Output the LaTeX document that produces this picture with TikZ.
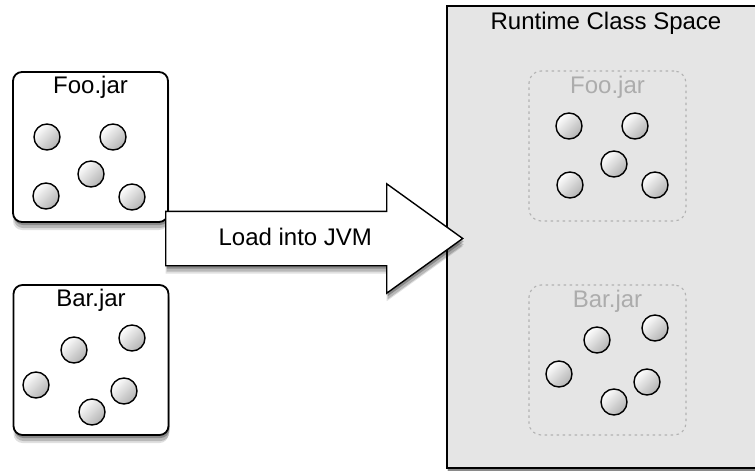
\documentclass[tikz,border=0pt]{standalone}
\usepackage{fontspec}
\setmainfont{Liberation Sans}
\usetikzlibrary{shapes.arrows, shadows}
\newcommand{\jarfont}{\fontsize{24pt}{28pt}\selectfont}
\tikzset{
  softshadow/.style={
    drop shadow={shadow xshift=0pt, shadow yshift=-8pt, opacity=0.12, fill=black},
    drop shadow={shadow xshift=1pt, shadow yshift=-6pt, opacity=0.18, fill=black},
    drop shadow={shadow xshift=1pt, shadow yshift=-3pt, opacity=0.25, fill=black}
  },
  jarbox/.style={
    rectangle, draw=black, line width=1.8pt, rounded corners=9pt, fill=white,
    minimum width=155pt, minimum height=150pt, softshadow
  },
  ghostbox/.style={
    rectangle, draw=gray!60, dash pattern=on 2.5pt off 3.5pt, line width=1.1pt,
    rounded corners=12pt, minimum width=157pt, minimum height=150pt
  },
  spacebox/.style={
    rectangle, draw=black, line width=1.6pt, fill=gray!20,
    minimum width=318pt, minimum height=462pt, softshadow
  },
  cls/.style={
    circle, draw=black, line width=1.4pt, minimum size=26pt, inner sep=0pt,
    top color=white, bottom color=gray!60, shading angle=45
  },
  title/.style={font=\jarfont, inner sep=0pt, anchor=north},
  loadarrow/.style={
    single arrow, draw=black, line width=1.4pt, fill=white, font=\jarfont,
    minimum height=297pt, minimum width=108pt, single arrow head extend=27.5pt,
    single arrow tip angle=71.5, text height=17pt, text depth=4pt, inner ysep=16pt,
    anchor=tail, softshadow
  }
}

\begin{document}
\begin{tikzpicture}[x=1pt, y=-1pt]
  \useasboundingbox (0,0) rectangle (755,471);

  % class space on the right
  \node[spacebox, label={[title, yshift=-7pt]north:Runtime Class Space}] (space) at (606,237) {};

  % the two jars
  \node[jarbox, label={[title, yshift=-4.5pt]north:Foo.jar}] (foo) at (90.5,147) {};
  \node[jarbox, label={[title, yshift=-4.5pt]north:Bar.jar}] (bar) at (91,360) {};
  \foreach \p [count=\i] in {(47,137),(113,137),(91,174),(46,196),(132,197)}
    \node[cls] (foo\i) at \p {};
  \foreach \p [count=\i] in {(74,350),(132,338),(36,385),(124,391),(92,412)}
    \node[cls] (bar\i) at \p {};

  \node[loadarrow] (load) at (165,238.5) {Load into JVM};

  % loaded copies
  \node[ghostbox, label={[title, text=gray!65, yshift=-5pt]north:Foo.jar}] (sfoo) at (607.5,146) {};
  \node[ghostbox, label={[title, text=gray!65, yshift=-5pt]north:Bar.jar}] (sbar) at (607.5,360) {};
  \foreach \p [count=\i] in {(569,126),(635,126),(614,164),(570,185),(655,185)}
    \node[cls] (sfoo\i) at \p {};
  \foreach \p [count=\i] in {(597,340),(655,328),(559,374),(647,382),(614,402)}
    \node[cls] (sbar\i) at \p {};
\end{tikzpicture}
\end{document}
